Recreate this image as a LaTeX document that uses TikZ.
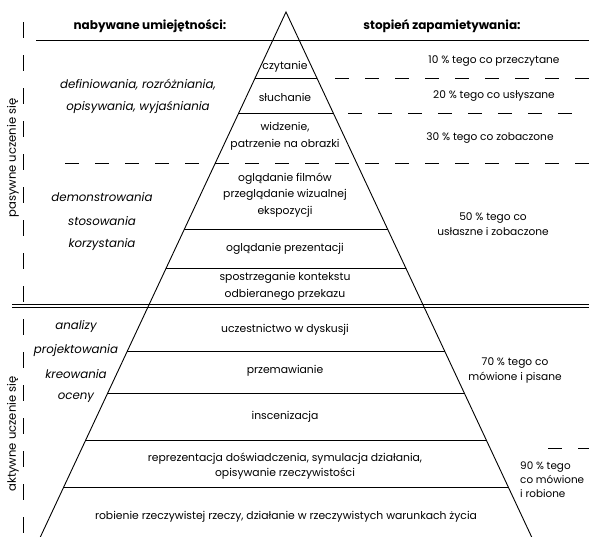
\documentclass[tikz,border=0pt]{standalone}
\usepackage{fontspec}
\setmainfont{Poppins}
\usetikzlibrary{positioning}
\tikzstyle{level} = [align=center, font=\fontsize{10.8}{16.5}\selectfont, inner sep=0pt]
\tikzstyle{skill} = [align=center, font=\fontsize{11.8}{12}\selectfont\itshape, inner sep=0pt]
\tikzstyle{rate} = [align=center, font=\fontsize{10.6}{15}\selectfont, inner sep=0pt]
\tikzstyle{head} = [font=\fontsize{12}{12}\selectfont\bfseries, inner sep=0pt]
\tikzstyle{side} = [rotate=90, font=\fontsize{11.6}{12}\selectfont, inner sep=0pt]
\tikzstyle{divider} = [draw, line width=0.8pt]
\tikzstyle{gap} = [draw, line width=0.8pt, dash pattern=on 14pt off 16pt]

\begin{document}
\begin{tikzpicture}[x=1pt, y=-1pt]
    \useasboundingbox (0,0) rectangle (589,536);

    % pyramid
    \coordinate (apex) at (286,12);
    \coordinate (baseL) at (38,542);
    \coordinate (baseR) at (534,542);
    \draw[line width=0.9pt] (baseL) -- (apex) -- (baseR);
    \begin{scope}
        \clip (apex) -- (baseL) -- (baseR) -- cycle;
        \foreach \y in {78,113,229,268,351,393,440,487}
            \path[divider] (0,\y) -- (589,\y);
    \end{scope}

    % frame lines
    \path[divider] (36,40) -- (589,40);
    \path[divider] (12,304) -- (589,304);
    \path[divider] (12,307) -- (589,307);
    \path[gap] (335,78) -- (589,78);
    \path[gap] (348,113) -- (580,113);
    \path[gap] (65,163) -- (589,163);
    \path[gap] (548,448) -- (589,448);
    \path[draw, line width=0.8pt, dash pattern=on 16pt off 17pt] (23,22) -- (23,536);

    % headings
    \node[head] (skills) at (150,26) {nabywane umiejętności:};
    \node[head] (memory) at (442,26) {stopień zapamietywania:};

    % pyramid levels
    \node[level] (read) at (285,67) {czytanie};
    \node[level] (hear) at (285,97) {słuchanie};
    \node[level] (see) at (285,136.5) {widzenie,\\patrzenie na obrazki};
    \node[level] (films) at (285,195) {oglądanie filmów\\przeglądanie wizualnej\\ekspozycji};
    \node[level] (slides) at (285,249) {oglądanie prezentacji};
    \node[level] (context) at (285,286.5) {spostrzeganie kontekstu\\odbieranego przekazu};
    \node[level] (discuss) at (285,330) {uczestnictwo w dyskusji};
    \node[level] (speak) at (285,371) {przemawianie};
    \node[level] (stage) at (285,417) {inscenizacja};
    \node[level, font=\fontsize{10.8}{15}\selectfont] (simulate) at (285,466.5) {reprezentacja doświadczenia, symulacja działania,\\opisywanie rzeczywistości};
    \node[level] (doing) at (286,517) {robienie rzeczywistej rzeczy, działanie w rzeczywistych warunkach życia};

    % skills
    \node[skill] (define) at (138,85) {definiowania, rozróżniania,};
    \node[skill, below of=define, node distance=22pt] (explain) {opisywania, wyjaśniania};
    \node[skill] (demo) at (102,197) {demonstrowania};
    \node[skill, below of=demo, node distance=24pt] (apply) {stosowania};
    \node[skill, below of=apply, node distance=24pt] (use) {korzystania};
    \node[skill] (analyse) at (76,327) {analizy};
    \node[skill, below of=analyse, node distance=24pt] (design) {projektowania};
    \node[skill, below of=design, node distance=23pt] (create) {kreowania};
    \node[skill, below of=create, node distance=24pt] (judge) {oceny};

    % retention
    \node[rate] (r10) at (494,61) {10 \% tego co przeczytane};
    \node[rate] (r20) at (494,96) {20 \% tego co usłyszane};
    \node[rate] (r30) at (490,138) {30 \% tego co zobaczone};
    \node[rate] (r50) at (493,224.5) {50 \% tego co\\usłaszne i zobaczone};
    \node[rate] (r70) at (515,370) {70 \% tego co\\mówione i pisane};
    \node[rate, align=left, anchor=west, font=\fontsize{10.4}{14}\selectfont] (r90) at (520,480) {90 \% tego\\co mówione\\i robione};

    % sides
    \node[side] (passive) at (13,158) {pasywne uczenie się};
    \node[side] (active) at (13,434) {aktywne uczenie się};
\end{tikzpicture}
\end{document}
